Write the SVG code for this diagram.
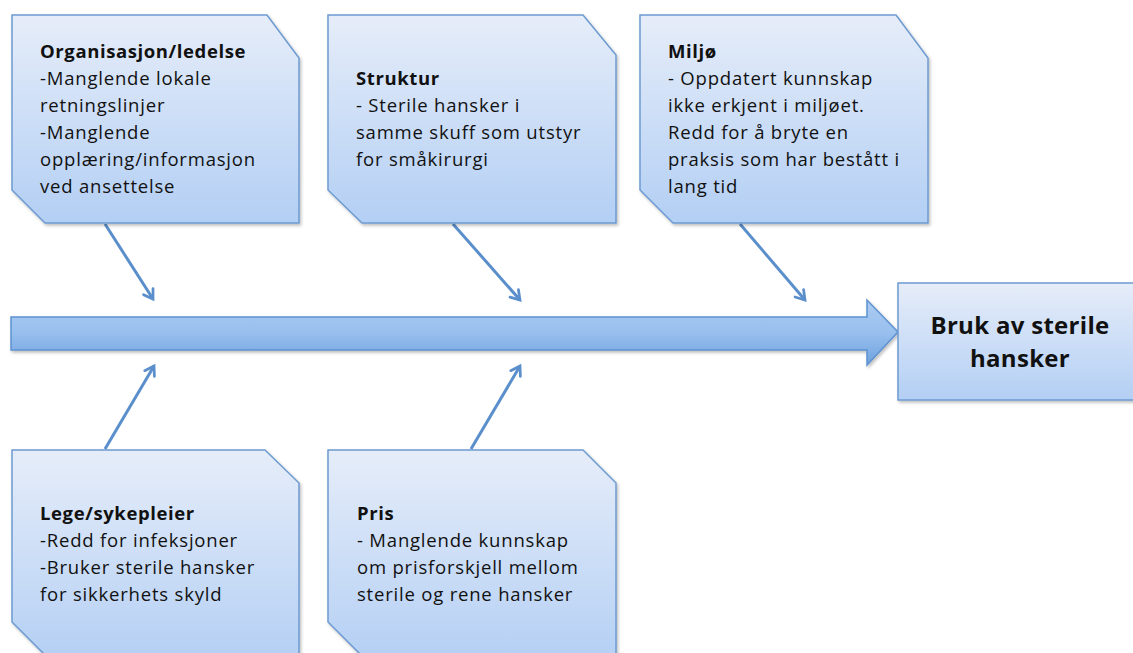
<svg xmlns="http://www.w3.org/2000/svg" width="1133" height="653" viewBox="0 0 1133 653">
<defs>
<linearGradient id="boxg" x1="0" y1="0" x2="0" y2="1">
<stop offset="0" stop-color="#e6edf9"/>
<stop offset="1" stop-color="#b3cff4"/>
</linearGradient>
<linearGradient id="arrg" x1="0" y1="0" x2="0" y2="1">
<stop offset="0" stop-color="#acccf3"/>
<stop offset="0.5" stop-color="#98bfee"/>
<stop offset="1" stop-color="#6fa2df"/>
</linearGradient>
<filter id="sh" x="-5%" y="-5%" width="115%" height="115%">
<feDropShadow dx="1.5" dy="2" stdDeviation="1.5" flood-color="#000" flood-opacity="0.25"/>
</filter>
<marker id="ah" viewBox="0 0 12 12" refX="9.5" refY="6" markerWidth="5" markerHeight="5" orient="auto" markerUnits="strokeWidth">
<path d="M2.5,1.5 L9.5,6 L2.5,10.5" fill="none" stroke="#5b8fcc" stroke-width="2.2" stroke-linecap="round" stroke-linejoin="miter"/>
</marker>
</defs>
<style>
.box{fill:url(#boxg);stroke:#6d9bd1;stroke-width:1.5;filter:url(#sh)}
.t{font-family:"Open Sans","Liberation Sans",sans-serif;font-size:18.5px;fill:#111;letter-spacing:0.8px}
.b{font-weight:bold;letter-spacing:0.6px}
.big{font-family:"Open Sans","Liberation Sans",sans-serif;font-size:24px;font-weight:bold;fill:#111;letter-spacing:0.3px}
.con{stroke:#5b8fcc;stroke-width:3;fill:none;marker-end:url(#ah)}
</style>
<rect width="1133" height="653" fill="#fff"/>

<g id="spine">
<polygon points="11,317 867,317 867,300 898,332 867,365 867,350 11,350" fill="url(#arrg)" stroke="#5e92cf" stroke-width="1.5" filter="url(#sh)"/>
</g>

<g id="connectors">
<line class="con" x1="105" y1="224" x2="153" y2="299"/>
<line class="con" x1="453" y1="224" x2="520" y2="300"/>
<line class="con" x1="740" y1="224" x2="805" y2="300"/>
<line class="con" x1="105" y1="449" x2="154" y2="366"/>
<line class="con" x1="471" y1="449" x2="520" y2="366"/>
</g>

<g id="organisasjon">
<polygon class="box" points="12,15 267,15 299,58 299,223 45,223 12,190"/>
<text class="t" x="40" y="58"><tspan class="b">Organisasjon/ledelse</tspan><tspan x="40" dy="27">-Manglende lokale</tspan><tspan x="40" dy="27">retningslinjer</tspan><tspan x="40" dy="27">-Manglende</tspan><tspan x="40" dy="27">opplæring/informasjon</tspan><tspan x="40" dy="27">ved ansettelse</tspan></text>
</g>

<g id="struktur">
<polygon class="box" points="328,15 583,15 616,55 616,223 362,223 328,190"/>
<text class="t" x="356" y="85"><tspan class="b">Struktur</tspan><tspan x="356" dy="27">- Sterile hansker i</tspan><tspan x="356" dy="27">samme skuff som utstyr</tspan><tspan x="356" dy="27">for småkirurgi</tspan></text>
</g>

<g id="miljo">
<polygon class="box" points="640,15 896,15 928,58 928,223 673,223 640,190"/>
<text class="t" x="668" y="58"><tspan class="b">Miljø</tspan><tspan x="668" dy="27">- Oppdatert kunnskap</tspan><tspan x="668" dy="27">ikke erkjent i miljøet.</tspan><tspan x="668" dy="27">Redd for å bryte en</tspan><tspan x="668" dy="27">praksis som har bestått i</tspan><tspan x="668" dy="27">lang tid</tspan></text>
</g>

<g id="lege">
<polygon class="box" points="12,450 265,450 299,483 299,665 55,665 12,622"/>
<text class="t" x="40" y="520"><tspan class="b">Lege/sykepleier</tspan><tspan x="40" dy="27">-Redd for infeksjoner</tspan><tspan x="40" dy="27">-Bruker sterile hansker</tspan><tspan x="40" dy="27">for sikkerhets skyld</tspan></text>
</g>

<g id="pris">
<polygon class="box" points="328,450 583,450 616,483 616,665 371,665 328,622"/>
<text class="t" x="357" y="520"><tspan class="b">Pris</tspan><tspan x="357" dy="27">- Manglende kunnskap</tspan><tspan x="357" dy="27">om prisforskjell mellom</tspan><tspan x="357" dy="27">sterile og rene hansker</tspan></text>
</g>

<g id="result">
<rect class="box" x="898" y="283" width="245" height="117"/>
<text class="big" x="1020" y="334" text-anchor="middle">Bruk av sterile</text>
<text class="big" x="1020" y="367" text-anchor="middle">hansker</text>
</g>
</svg>
